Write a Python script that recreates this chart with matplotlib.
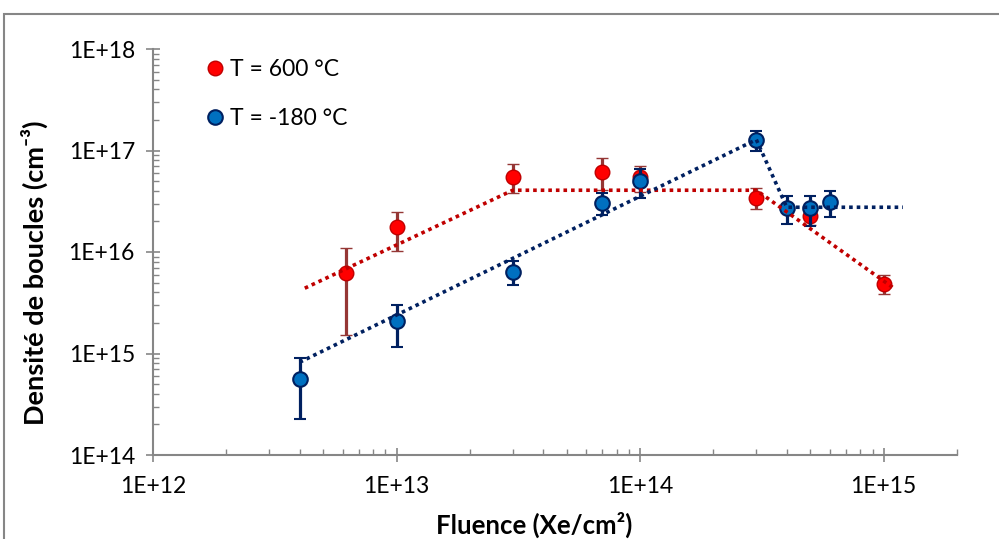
import matplotlib.pyplot as plt
import numpy as np
from matplotlib.lines import Line2D
from matplotlib.patches import Rectangle
from matplotlib.ticker import LogLocator, NullFormatter

plt.rcParams['font.family'] = ['Lato', 'DejaVu Sans']

# T = 600 °C
fluence_600 = [6.2e12, 1e13, 3e13, 7e13, 1e14, 3e14, 5e14, 1e15]
dens_600 = [6.2e15, 1.77e16, 5.5e16, 6.1e16, 5.5e16, 3.4e16, 2.27e16, 4.85e15]
dens_600_hi = [1.09e16, 2.46e16, 7.3e16, 8.4e16, 7.1e16, 4.25e16, 2.8e16, 5.9e15]
dens_600_lo = [1.52e15, 1.02e16, 3.8e16, 4.05e16, 3.9e16, 2.65e16, 1.84e16, 3.85e15]
trend_600_x = [4.2e12, 3e13, 3e14, 1.1e15]
trend_600_y = [4.4e15, 4.06e16, 4.06e16, 4.4e15]

# T = -180 °C
fluence_m180 = [4e12, 1e13, 3e13, 7e13, 1e14, 3e14, 4e14, 5e14, 6e14]
dens_m180 = [5.6e14, 2.1e15, 6.4e15, 3.04e16, 5.0e16, 1.28e17, 2.74e16, 2.74e16, 3.1e16]
dens_m180_hi = [9.0e14, 3.0e15, 8.1e15, 3.8e16, 6.5e16, 1.55e17, 3.6e16, 3.6e16, 4.0e16]
dens_m180_lo = [2.26e14, 1.16e15, 4.7e15, 2.3e16, 3.4e16, 9.8e16, 1.88e16, 1.8e16, 2.2e16]
trend_m180_x = [4e12, 3e14, 4e14, 1.2e15]
trend_m180_y = [8.2e14, 1.28e17, 2.76e16, 2.76e16]

x_ticks = [1e12, 1e13, 1e14, 1e15]
x_labels = ['1E+12', '1E+13', '1E+14', '1E+15']
y_ticks = [1e14, 1e15, 1e16, 1e17, 1e18]
y_labels = ['1E+14', '1E+15', '1E+16', '1E+17', '1E+18']

fig = plt.figure(figsize=(9.99, 5.39), dpi=100)
ax = fig.add_axes([153 / 999, 1 - 455 / 539, (957 - 153) / 999, (455 - 49) / 539])

fig.patches.append(Rectangle((4 / 999, -0.1), 1.2, 1 - 14 / 539 + 0.1, transform=fig.transFigure,
                             fill=False, edgecolor='#868686', linewidth=1.5))


def yerr(vals, lo, hi):
    v = np.array(vals)
    return [v - np.array(lo), np.array(hi) - v]


ax.errorbar(fluence_600, dens_600, yerr=yerr(dens_600, dens_600_lo, dens_600_hi), fmt='o',
            color='#FF0000', markersize=10.5, markeredgecolor='#C00000', markeredgewidth=1,
            ecolor='#953735', elinewidth=2.3, capsize=4.5, capthick=2.3, zorder=3)
ax.errorbar(fluence_m180, dens_m180, yerr=yerr(dens_m180, dens_m180_lo, dens_m180_hi), fmt='o',
            color='#0070C0', markersize=10.5, markeredgecolor='#002060', markeredgewidth=1.5,
            ecolor='#002060', elinewidth=2.3, capsize=4.5, capthick=2.3, zorder=4)

ax.plot(trend_600_x, trend_600_y, color='#C00000', linewidth=2.6, dashes=(1, 1.1),
        dash_capstyle='butt', zorder=5)
ax.plot(trend_m180_x, trend_m180_y, color='#002060', linewidth=2.6, dashes=(1, 1.1),
        dash_capstyle='butt', zorder=6)

ax.set_xscale('log')
ax.set_yscale('log')
ax.set_xlim(1e12, 2e15)
ax.set_ylim(1e14, 1e18)
ax.set_xticks(x_ticks, x_labels)
ax.set_yticks(y_ticks, y_labels)
ax.xaxis.set_minor_locator(LogLocator(base=10, subs=np.arange(2, 10)))
ax.yaxis.set_minor_locator(LogLocator(base=10, subs=np.arange(2, 10)))
ax.xaxis.set_minor_formatter(NullFormatter())
ax.yaxis.set_minor_formatter(NullFormatter())

for s in ['top', 'right']:
    ax.spines[s].set_visible(False)
for s in ['left', 'bottom']:
    ax.spines[s].set_color('#868686')
    ax.spines[s].set_linewidth(1.5)

ax.tick_params(which='major', direction='inout', length=10, width=1.2, color='#868686',
               labelsize=16.5, pad=8)
ax.tick_params(which='minor', direction='in', length=4, width=1, color='#868686')
ax.tick_params(axis='x', which='major', pad=10)

ax.set_xlabel('Fluence (Xe/cm²)', fontsize=18.5, fontweight='bold')
ax.set_ylabel('Densité de boucles (cm⁻³)', fontsize=19.5, fontweight='bold')
ax.xaxis.set_label_coords(0.474, -0.14)
ax.yaxis.set_label_coords(-0.13, 0.45)

handles = [
    Line2D([], [], marker='o', linestyle='none', markersize=10.5, markerfacecolor='#FF0000',
           markeredgecolor='#C00000'),
    Line2D([], [], marker='o', linestyle='none', markersize=10.5, markerfacecolor='#0070C0',
           markeredgecolor='#002060', markeredgewidth=1.5),
]
ax.legend(handles, ['T = 600 °C', 'T = -180 °C'], loc='upper left', bbox_to_anchor=(190 / 999, 1 - 48 / 539),
          bbox_transform=fig.transFigure, frameon=False, fontsize=16.5, labelspacing=1.2,
          handletextpad=0.05, handlelength=1.2, borderpad=0)

fig.savefig('out.png', dpi=100)
